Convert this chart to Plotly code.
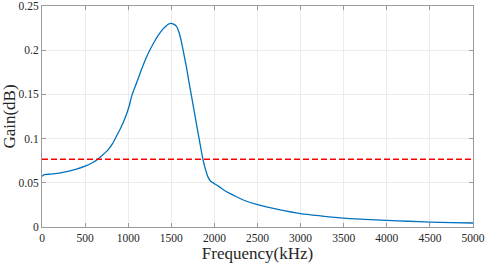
import plotly.graph_objects as go

freq_khz = [0, 20, 50, 100, 200, 300, 400, 500, 600, 650, 700, 771, 820, 868, 920, 965,
            1008, 1043, 1101, 1150, 1198, 1250, 1300, 1350, 1400, 1440, 1470, 1492, 1520,
            1558, 1590, 1616, 1645, 1674, 1703, 1733, 1762, 1791, 1830, 1867, 1900, 1926,
            1960, 1990, 2050, 2100, 2178, 2250, 2350, 2500, 2750, 3000, 3250, 3500, 3750,
            4000, 4250, 4500, 4750, 5000]
gain_db = [0.0572, 0.0590, 0.0595, 0.0598, 0.0610, 0.0630, 0.0655, 0.0688, 0.0735, 0.0770,
           0.0812, 0.0878, 0.0945, 0.1035, 0.1135, 0.1235, 0.1357, 0.1489, 0.1640, 0.1770,
           0.1890, 0.2000, 0.2090, 0.2170, 0.2235, 0.2275, 0.2296, 0.2303, 0.2298, 0.2272,
           0.2200, 0.2100, 0.1960, 0.1817, 0.1650, 0.1490, 0.1330, 0.1170, 0.0960, 0.0765,
           0.0640, 0.0564, 0.0515, 0.0496, 0.0460, 0.0425, 0.0380, 0.0345, 0.0300, 0.0252,
           0.0196, 0.0151, 0.0124, 0.0101, 0.0087, 0.0075, 0.0065, 0.0056, 0.0050, 0.0045]
threshold = 0.0765
x_range = [0, 5000]
y_range = [0, 0.25]
x_ticks = [0, 500, 1000, 1500, 2000, 2500, 3000, 3500, 4000, 4500, 5000]
y_ticks = [0, 0.05, 0.1, 0.15, 0.2, 0.25]
y_ticklabels = ["0", "0.05", "0.1", "0.15", "0.2", "0.25"]

fig = go.Figure()
fig.add_trace(go.Scatter(x=freq_khz, y=gain_db, mode="lines", line_shape="spline",
                         line=dict(color="#0072BD", width=1.3, smoothing=0.8), showlegend=False))
fig.add_trace(go.Scatter(x=x_range, y=[threshold, threshold], mode="lines",
                         line=dict(color="#FF0000", width=1.5, dash="6px,3px"), showlegend=False))

font_family = "Liberation Serif"
axis_common = dict(
    showline=True, linecolor="#9a9a9a", linewidth=1, mirror="allticks",
    ticks="inside", ticklen=4, tickcolor="#9a9a9a", automargin=False,
    showgrid=True, gridcolor="#ececec", gridwidth=1, zeroline=False,
    tickfont=dict(family=font_family, size=11.5, color="#262626"),
)
fig.update_xaxes(range=x_range, tickvals=x_ticks, ticktext=[str(v) for v in x_ticks],
                 title=dict(text="Frequency(kHz)", font=dict(family=font_family, size=17, color="#262626"), standoff=2),
                 **axis_common)
fig.update_yaxes(range=y_range, tickvals=y_ticks, ticktext=y_ticklabels,
                 title=dict(text="Gain(dB)", font=dict(family=font_family, size=17, color="#262626"), standoff=4),
                 **axis_common)
fig.update_layout(width=485, height=263, autosize=False, margin=dict(l=42, r=12, t=6, b=36),
                  plot_bgcolor="white", paper_bgcolor="white",
                  font=dict(family=font_family, color="#262626"))
fig.write_html("out.html", config={"displayModeBar": False, "responsive": False},
               post_script="document.body.style.margin='0';document.body.style.padding='0';document.body.style.overflow='hidden';")
